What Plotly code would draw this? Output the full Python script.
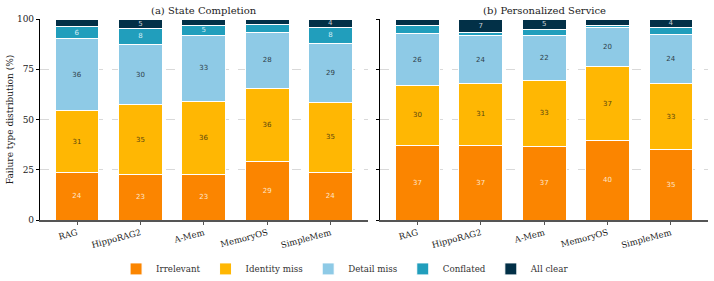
import plotly.graph_objects as go
from plotly.subplots import make_subplots

methods = ["RAG", "HippoRAG2", "A-Mem", "MemoryOS", "SimpleMem"]
series_names = ["Irrelevant", "Identity miss", "Detail miss", "Conflated", "All clear"]

# (a) State Completion
sc_irrelevant = [23.6, 22.6, 22.8, 28.9, 23.7]
sc_identity = [30.9, 34.7, 36.4, 36.4, 35.0]
sc_detail = [35.7, 30.1, 32.7, 28.2, 29.3]
sc_conflated = [6.1, 7.8, 4.8, 3.9, 7.8]
sc_clear = [3.7, 4.8, 3.3, 2.6, 4.2]

# (b) Personalized Service
ps_irrelevant = [37.2, 37.2, 36.6, 39.6, 35.0]
ps_identity = [29.6, 30.7, 33.0, 36.6, 32.9]
ps_detail = [26.1, 23.9, 22.2, 19.7, 24.4]
ps_conflated = [3.8, 1.4, 2.9, 0.8, 3.4]
ps_clear = [3.3, 6.8, 5.3, 3.3, 4.3]

colors = ["#FB8500", "#FFB703", "#8ECAE6", "#219EBC", "#023047"]
text_colors = ["#fde6cc", "#5a4710", "#2f3e48", "#d4ecf4", "#c9d1d8"]
LABEL_MIN = 4.0

panels = [
    [sc_irrelevant, sc_identity, sc_detail, sc_conflated, sc_clear],
    [ps_irrelevant, ps_identity, ps_detail, ps_conflated, ps_clear],
]

fig = make_subplots(rows=1, cols=2, horizontal_spacing=0.019,
                    subplot_titles=["(a) State Completion", "(b) Personalized Service"])

for p, data in enumerate(panels):
    for i, vals in enumerate(data):
        labels = [f"{round(v):d}" if v >= LABEL_MIN else "" for v in vals]
        fig.add_trace(go.Bar(
            x=methods, y=vals, name=series_names[i],
            marker=dict(color=colors[i], line=dict(color="white", width=1)),
            text=labels, textposition="inside", insidetextanchor="middle",
            textangle=0, constraintext="none",
            textfont=dict(family="DejaVu Sans", size=7, color=text_colors[i]),
            width=0.69, showlegend=(p == 0), legendgroup=series_names[i],
            hoverinfo="skip",
        ), row=1, col=p + 1)

fig.update_layout(
    barmode="stack",
    width=714, height=281,
    margin=dict(l=40, r=6, t=19, b=61, autoexpand=False),
    paper_bgcolor="white", plot_bgcolor="white",
    font=dict(family="DejaVu Serif", size=9, color="#222"),
    legend=dict(orientation="h", xref="container", yref="container",
                x=0.484, xanchor="center", y=0.043, yanchor="middle",
                font=dict(family="DejaVu Serif", size=8.7, color="#333"),
                itemwidth=30, tracegroupgap=0),
)
for ann in fig.layout.annotations:
    ann.font = dict(family="DejaVu Serif", size=10, color="#222")
    ann.yshift = 1

fig.update_xaxes(range=[-0.585, 4.585], showline=True, linecolor="#555", linewidth=1.5,
                 ticks="outside", ticklen=3, tickcolor="#555", tickangle=-15,
                 tickfont=dict(family="DejaVu Serif", size=8.5, color="#222"),
                 showgrid=False, zeroline=False, automargin=False)
fig.update_yaxes(range=[0, 100], tickvals=[0, 25, 50, 75, 100],
                 showline=True, linecolor="black", linewidth=1.2,
                 ticks="outside", ticklen=3, tickcolor="black",
                 showgrid=True, gridcolor="#d9d9d9", griddash="dash", gridwidth=0.8,
                 zeroline=False, automargin=False,
                 tickfont=dict(family="DejaVu Serif", size=9, color="#222"))
fig.update_yaxes(title=dict(text="Failure type distribution (%)",
                            font=dict(family="DejaVu Serif", size=9, color="#222"),
                            standoff=1), row=1, col=1)
fig.update_yaxes(showticklabels=False, row=1, col=2)

fig.write_html("out.html")
